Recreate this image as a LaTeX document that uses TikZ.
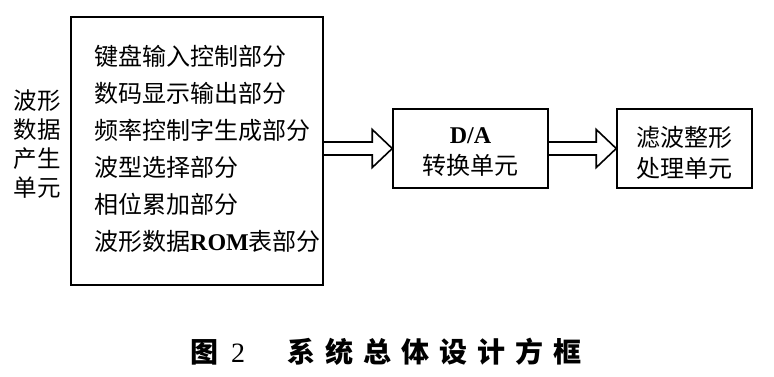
\documentclass[tikz,border=0pt]{standalone}
\usepackage{fontspec}
\setmainfont{Liberation Serif}
\newfontfamily\cjk{Noto Sans CJK SC}
\newfontfamily\cjkcap[LetterSpace=36]{Noto Sans CJK SC}
\usetikzlibrary{calc}
\tikzset{
  unit/.style={draw,line width=1.5pt,inner sep=0pt},
  unittext/.style={inner sep=0pt,align=center,font=\cjk\fontsize{24}{31}\selectfont},
  part/.style={anchor=west,inner sep=0pt,font=\cjk\fontsize{24}{24}\selectfont},
  tag/.style={inner sep=0pt,align=center,font=\cjk\fontsize{23.5}{29}\selectfont},
  fat/.style={line width=1.6pt,line join=miter}
}
% hollow block arrow from the right side of #1 to the left side of #2
\newcommand\fatarrow[2]{%
  \draw[fat] ($(#1.east|-#2.west)+(0,-6.5)$) -- ($(#2.west)+(-20,-6.5)$)
    -- ($(#2.west)+(-20,-19)$) -- (#2.west) -- ($(#2.west)+(-20,19)$)
    -- ($(#2.west)+(-20,6.5)$) -- ($(#1.east|-#2.west)+(0,6.5)$);}
\begin{document}
\begin{tikzpicture}[x=1pt,y=-1pt]
  \useasboundingbox (0,0) rectangle (774,376);
  % units
  \node[unit,minimum width=252pt,minimum height=268pt] (gen) at (197,151) {};
  \node[unit,minimum width=155pt,minimum height=79pt] (da) at (470.5,148.5) {};
  \node[unit,minimum width=135pt,minimum height=79pt] (flt) at (684.5,148.5) {};
  \node[unittext] (datext) at ($(da)+(0,4)$) {\textrm{\bfseries D/A}\\转换单元};
  \node[unittext] (flttext) at ($(flt)+(0,4)$) {滤波整形\\处理单元};
  \node[tag] (name) at (37,144.5) {波形\\数据\\产生\\单元};
  % parts of the first unit
  \foreach \t [count=\i] in {键盘输入控制部分,数码显示输出部分,频率控制字生成部分,
      波型选择部分,相位累加部分,波形数据{\rmfamily\bfseries ROM}表部分}
    \node[part] (p\i) at (94,{56+37*(\i-1)}) {\t};
  \fatarrow{gen}{da}
  \fatarrow{da}{flt}
  \node[inner sep=0pt,font=\cjkcap\bfseries\fontsize{28}{28}\selectfont] (cap) at (386,352)
    {图\hspace{0.45em}{\rmfamily\mdseries 2}\hspace{1.5em}系统总体设计方框};
\end{tikzpicture}
\end{document}
